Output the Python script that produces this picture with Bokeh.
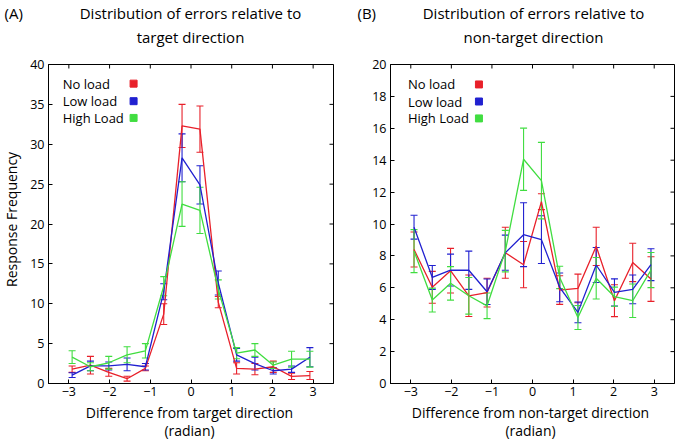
import math
from bokeh.plotting import figure
from bokeh.layouts import row, column
from bokeh.models import (ColumnDataSource, Whisker, TeeHead, Label, LinearAxis,
                          FixedTicker, Range1d)
from bokeh.embed import file_html
from bokeh.resources import INLINE

# ---------------- data ----------------
x_bins = [-2.92, -2.47, -2.02, -1.57, -1.12, -0.67, -0.22, 0.22, 0.67, 1.12, 1.57, 2.02, 2.47, 2.92]

series_names = ["No load", "Low load", "High Load"]

# Panel A: errors relative to target direction
a_no = [1.8, 2.3, 1.4, 0.6, 1.9, 8.7, 32.3, 31.9, 10.2, 1.9, 1.8, 2.1, 0.9, 1.0]
a_no_err = [0.4, 1.1, 0.5, 0.3, 0.3, 1.3, 2.7, 2.9, 0.7, 0.7, 0.7, 0.7, 0.4, 0.5]
a_low = [1.05, 2.2, 2.2, 2.4, 2.1, 11.5, 28.3, 24.9, 12.6, 3.6, 2.5, 1.6, 1.8, 3.3]
a_low_err = [0.3, 0.6, 0.5, 0.8, 0.4, 1.0, 3.0, 2.4, 1.5, 0.8, 0.8, 0.4, 0.4, 1.2]
a_high = [3.3, 2.1, 2.6, 3.6, 4.1, 12.2, 22.5, 21.7, 11.8, 3.8, 4.2, 2.3, 3.05, 3.05]
a_high_err = [0.8, 0.5, 0.8, 1.0, 0.9, 1.2, 2.8, 2.9, 1.2, 0.7, 0.8, 0.4, 1.0, 1.0]

# Panel B: errors relative to non-target direction
b_no = [8.4, 6.03, 7.07, 5.5, 5.7, 8.2, 7.45, 11.4, 5.86, 5.96, 8.6, 5.19, 7.59, 6.55]
b_no_err = [1.1, 1.0, 1.4, 1.3, 0.9, 1.6, 1.45, 0.5, 0.9, 0.9, 1.2, 1.0, 1.2, 1.4]
b_low = [9.8, 6.65, 7.11, 7.1, 5.75, 8.2, 9.33, 9.02, 6.03, 4.46, 7.43, 5.71, 5.9, 7.45]
b_low_err = [0.75, 0.75, 1.0, 1.2, 0.8, 1.1, 2.0, 1.5, 0.9, 0.65, 1.1, 0.85, 0.9, 1.0]
b_high = [8.3, 5.23, 6.28, 5.5, 4.87, 8.3, 14.06, 12.72, 6.65, 4.14, 6.6, 5.44, 5.19, 7.11]
b_high_err = [1.35, 0.75, 1.05, 1.15, 0.8, 1.3, 1.95, 2.4, 0.7, 0.75, 1.3, 0.6, 1.05, 1.1]

x_ticks = [-3, -2, -1, 0, 1, 2, 3]
a_y_ticks = [0, 5, 10, 15, 20, 25, 30, 35, 40]
b_y_ticks = [0, 2, 4, 6, 8, 10, 12, 14, 16, 18, 20]

COLORS = ["#e8202a", "#2020d0", "#40dd40"]
FONT = "Open Sans"
TICK_SIZE = "12.5px"
X_MIN, X_MAX = -3.5, 3.5
TOTAL_W = 676
PANEL_H = 346
STRIP_W = 22


def make_panel(width, border_left, border_right, y_max, y_ticks, series, legend_pos):
    p = figure(width=width, height=PANEL_H, output_backend="svg", toolbar_location=None,
               x_range=Range1d(X_MIN, X_MAX), y_range=Range1d(0, y_max),
               min_border_left=border_left, min_border_right=border_right,
               min_border_top=8, min_border_bottom=19,
               x_axis_location=None, y_axis_location=None)
    p.grid.visible = False
    p.outline_line_color = "black"
    p.outline_line_width = 1
    p.background_fill_color = "white"
    p.border_fill_color = "white"

    xa = LinearAxis(ticker=FixedTicker(ticks=x_ticks))
    ya = LinearAxis(ticker=FixedTicker(ticks=y_ticks))
    for ax in (xa, ya):
        ax.major_tick_in = 4
        ax.major_tick_out = 0
        ax.minor_tick_line_color = None
        ax.axis_line_color = "black"
        ax.major_label_text_font = FONT
        ax.major_label_text_font_size = TICK_SIZE
        ax.major_label_text_color = "black"
    xa.major_label_standoff = 3
    ya.major_label_standoff = 4
    p.add_layout(xa, "below")
    p.add_layout(ya, "left")

    # inward ticks on the top and right edges (half of each dash is clipped away)
    p.scatter(x=x_ticks, y=[y_max] * len(x_ticks), marker="dash", angle=math.pi / 2,
              size=8, line_color="black", line_width=1)
    p.scatter(x=[X_MAX] * len(y_ticks), y=y_ticks, marker="dash",
              size=8, line_color="black", line_width=1)

    for (vals, errs), color in zip(series, COLORS):
        src = ColumnDataSource(dict(
            x=x_bins, y=vals,
            upper=[v + e for v, e in zip(vals, errs)],
            lower=[v - e for v, e in zip(vals, errs)]))
        w = Whisker(source=src, base="x", upper="upper", lower="lower",
                    line_color=color, line_width=1.1,
                    upper_head=TeeHead(size=7, line_color=color, line_width=1.1),
                    lower_head=TeeHead(size=7, line_color=color, line_width=1.1))
        p.add_layout(w)
        p.line("x", "y", source=src, line_color=color, line_width=1.3)

    # legend (label then coloured square)
    tx, mx, ys = legend_pos
    for name, color, yy in zip(series_names, COLORS, ys):
        p.add_layout(Label(x=tx, y=yy, text=name, text_font=FONT, text_font_size="13px",
                           text_color="black", text_baseline="middle", text_align="left"))
        p.scatter(x=[mx], y=[yy], marker="square", size=7, fill_color=color,
                  line_color=color)
    return p


def text_strip(width, height, items, size="14px"):
    """A blank strip whose data units equal its own pixels (y grows downward)."""
    s = figure(width=width, height=height, output_backend="svg", toolbar_location=None,
               x_range=Range1d(0, width), y_range=Range1d(height, 0),
               min_border=0, x_axis_location=None, y_axis_location=None)
    s.grid.visible = False
    s.outline_line_color = None
    s.background_fill_color = "white"
    s.border_fill_color = "white"
    for x, y, text, align, angle in items:
        s.add_layout(Label(x=x, y=y, text=text, text_font=FONT, text_font_size=size,
                           text_color="black", text_align=align, text_baseline="middle",
                           angle=angle))
    return s


pA = make_panel(360 - STRIP_W, 48 - STRIP_W, 27, 40, a_y_ticks,
                [(a_no, a_no_err), (a_low, a_low_err), (a_high, a_high_err)],
                (-3.15, -1.41, [37.6, 35.4, 33.3]))
pB = make_panel(TOTAL_W - 360, 30, 2, 20, b_y_ticks,
                [(b_no, b_no_err), (b_low, b_low_err), (b_high, b_high_err)],
                (-3.07, -1.32, [18.75, 17.68, 16.62]))

yl_strip = text_strip(STRIP_W, PANEL_H, [
    (11, 168, "Response Frequency", "center", math.pi / 2),
])

header = text_strip(TOTAL_W, 56, [
    (4, 12, "(A)", "left", 0.0),
    (190, 12, "Distribution of errors relative to", "center", 0.0),
    (190, 36, "target direction", "center", 0.0),
    (357, 12, "(B)", "left", 0.0),
    (533, 12, "Distribution of errors relative to", "center", 0.0),
    (533, 36, "non-target direction", "center", 0.0),
], size="15px")
footer = text_strip(TOTAL_W, 37, [
    (189, 10, "Difference from target direction", "center", 0.0),
    (189, 28, "(radian)", "center", 0.0),
    (530, 10, "Difference from non-target direction", "center", 0.0),
    (530, 28, "(radian)", "center", 0.0),
])

layout = column(header, row(yl_strip, pA, pB, spacing=0), footer, spacing=0)
open("out.html", "w").write(file_html(layout, INLINE))
